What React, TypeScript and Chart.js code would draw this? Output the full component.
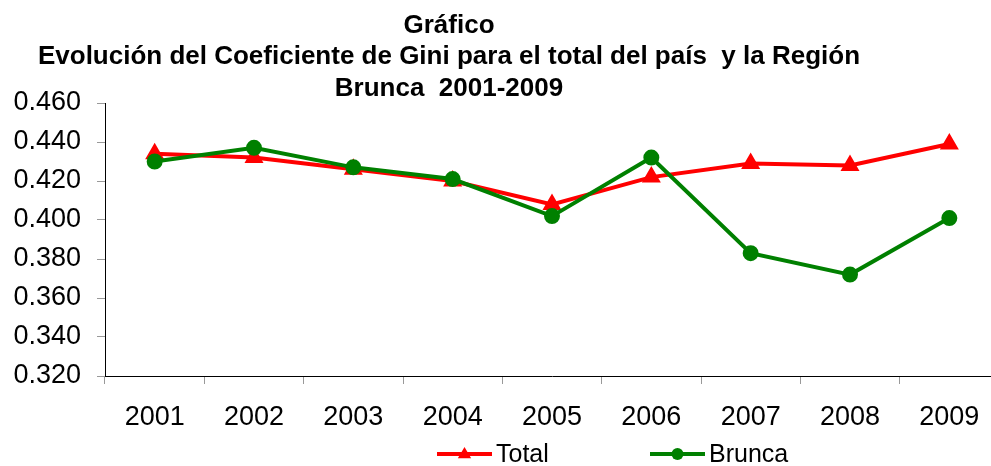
import React, { useEffect, useRef } from 'react';
import { Chart, registerables } from 'chart.js';

Chart.register(...registerables);

const categories = ['2001', '2002', '2003', '2004', '2005', '2006', '2007', '2008', '2009'];
const totalValues = [0.434, 0.432, 0.426, 0.42, 0.408, 0.422, 0.429, 0.428, 0.439];
const bruncaValues = [0.43, 0.437, 0.427, 0.421, 0.402, 0.432, 0.383, 0.372, 0.401];
const seriesLabels = ['Total', 'Brunca'];
const titleLines = [
  'Gráfico',
  'Evolución del Coeficiente de Gini para el total del país  y la Región',
  'Brunca  2001-2009',
];
const yMin = 0.32;
const yMax = 0.46;
const yStep = 0.02;

const FONT = "'Liberation Sans', Arial, sans-serif";

const titlePlugin = {
  id: 'customTitle',
  afterDraw(chart: any) {
    const ctx = chart.ctx;
    ctx.save();
    ctx.fillStyle = '#000';
    ctx.font = `bold 26px ${FONT}`;
    ctx.textAlign = 'center';
    ctx.textBaseline = 'alphabetic';
    const ys = [33, 64, 96];
    titleLines.forEach((t, i) => ctx.fillText(t, 449, ys[i]));
    ctx.restore();
  },
};

const legendPlugin = {
  id: 'customLegend',
  afterDraw(chart: any) {
    const ctx = chart.ctx;
    const y = 454;
    const starts = [437, 650];
    ctx.save();
    chart.data.datasets.forEach((ds: any, i: number) => {
      const x0 = starts[i];
      const x1 = x0 + 55;
      ctx.strokeStyle = ds.borderColor;
      ctx.lineWidth = ds.borderWidth;
      ctx.beginPath();
      ctx.moveTo(x0, y);
      ctx.lineTo(x1, y);
      ctx.stroke();
      ctx.fillStyle = ds.pointBackgroundColor;
      const cx = (x0 + x1) / 2;
      const r = ds.pointRadius;
      ctx.beginPath();
      if (ds.pointStyle === 'triangle') {
        ctx.moveTo(cx, y - r);
        ctx.lineTo(cx + r * 0.95, y + r * 0.6);
        ctx.lineTo(cx - r * 0.95, y + r * 0.6);
        ctx.closePath();
      } else {
        ctx.arc(cx, y, r, 0, Math.PI * 2);
      }
      ctx.fill();
      ctx.fillStyle = '#000';
      ctx.font = `25px ${FONT}`;
      ctx.textAlign = 'left';
      ctx.textBaseline = 'middle';
      ctx.fillText(ds.label, x1 + 4, y + 1);
    });
    ctx.restore();
  },
};

export default function App() {
  const ref = useRef<HTMLCanvasElement>(null);
  useEffect(() => {
    const chart = new Chart(ref.current!, {
      type: 'line',
      data: {
        labels: categories,
        datasets: [
          {
            label: seriesLabels[0],
            data: totalValues,
            borderColor: '#ff0000',
            backgroundColor: '#ff0000',
            pointBackgroundColor: '#ff0000',
            pointBorderColor: '#ff0000',
            borderWidth: 4,
            pointStyle: 'triangle',
            pointRadius: 7,
            tension: 0,
            order: 1,
          },
          {
            label: seriesLabels[1],
            data: bruncaValues,
            borderColor: '#008000',
            backgroundColor: '#008000',
            pointBackgroundColor: '#008000',
            pointBorderColor: '#008000',
            borderWidth: 4,
            pointStyle: 'circle',
            pointRadius: 6,
            tension: 0,
            order: 0,
          },
        ],
      },
      options: {
        responsive: false,
        animation: false,
        layout: { padding: { left: 0, right: 10, top: 103, bottom: 40 } },
        plugins: {
          legend: { display: false },
          title: { display: false },
          tooltip: { enabled: false },
        },
        scales: {
          x: {
            type: 'category',
            offset: true,
            grid: { offset: true, drawOnChartArea: false, color: '#999', tickLength: 8 },
            border: { color: '#000', width: 1 },
            ticks: { color: '#000', font: { family: FONT, size: 27 }, padding: 17, maxRotation: 0, autoSkip: false },
            afterFit: (s: any) => { s.height = 50; },
          },
          y: {
            min: yMin,
            max: yMax,
            grid: { drawOnChartArea: false, color: '#999', tickLength: 8 },
            border: { color: '#000', width: 1 },
            ticks: {
              stepSize: yStep,
              color: '#000',
              font: { family: FONT, size: 27 },
              padding: 16,
              callback: (v: any) => Number(v).toFixed(3),
            },
            afterFit: (s: any) => { s.width = 105; },
          },
        },
      } as any,
      plugins: [titlePlugin, legendPlugin],
    });
    return () => chart.destroy();
  }, []);
  return (
    <div style={{ position: 'fixed', left: 0, top: 0, width: 991, height: 466, overflow: 'hidden', background: '#fff' }}>
      <canvas ref={ref} width={1010} height={466} />
    </div>
  );
}
